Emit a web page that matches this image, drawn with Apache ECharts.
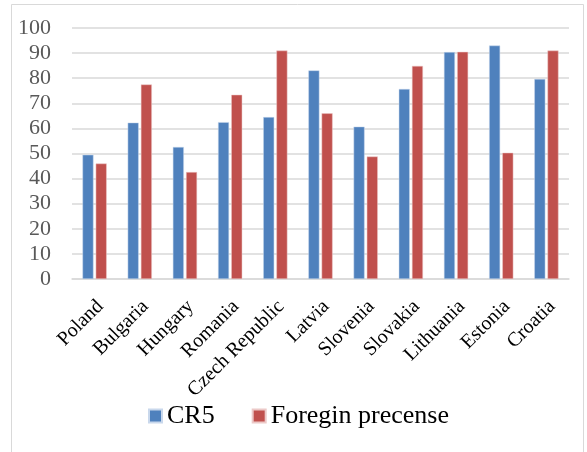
<!DOCTYPE html>
<html>
<head>
<meta charset="utf-8">
<script src="https://cdn.jsdelivr.net/npm/echarts@6/dist/echarts.min.js"></script>
<style>
  html, body { margin: 0; padding: 0; background: #fff; }
  #chart { width: 587px; height: 452px; }
</style>
</head>
<body>
<div id="chart"></div>
<script>
// Countries along the category axis
const countries = ['Poland', 'Bulgaria', 'Hungary', 'Romania', 'Czech Republic', 'Latvia',
  'Slovenia', 'Slovakia', 'Lithuania', 'Estonia', 'Croatia'];
// Share of the five largest banks (%)
const cr5 = [49.5, 62.3, 52.6, 62.5, 64.5, 83.1, 60.7, 75.7, 90.4, 93.0, 79.7];
// Share of foreign-owned banks (%)
const foreignPresence = [46.0, 77.5, 42.6, 73.4, 91.0, 66.0, 48.8, 84.9, 90.5, 50.3, 91.0];
const yTicks = [0, 10, 20, 30, 40, 50, 60, 70, 80, 90, 100];

const serif = '"Liberation Serif", "DejaVu Serif", serif';
const chart = echarts.init(document.getElementById('chart'), null, { renderer: 'canvas' });

chart.setOption({
  animation: false,
  backgroundColor: '#ffffff',
  graphic: [{
    type: 'rect',
    shape: { x: 11.5, y: 4.5, width: 572, height: 460 },
    style: { fill: 'none', stroke: '#d9d9d9', lineWidth: 1 },
    silent: true
  }],
  grid: { left: 72, right: 18, top: 28, bottom: 173, containLabel: false },
  legend: {
    left: 148,
    top: 403,
    padding: 0,
    itemWidth: 13,
    itemHeight: 13,
    itemGap: 37,
    icon: 'rect',
    textStyle: { fontFamily: serif, fontSize: 26, color: '#000000' },
    data: ['CR5', 'Foregin precense']
  },
  xAxis: {
    type: 'category',
    data: countries,
    axisLine: { lineStyle: { color: '#d9d9d9', width: 1.5 } },
    axisTick: { show: false },
    axisLabel: {
      interval: 0,
      rotate: 45,
      margin: 16,
      verticalAlign: 'top',
      padding: [0, 2, 0, 0],
      fontFamily: serif,
      fontSize: 20,
      color: '#000000'
    }
  },
  yAxis: {
    type: 'value',
    min: yTicks[0],
    max: yTicks[yTicks.length - 1],
    interval: 10,
    axisLine: { show: false },
    axisTick: { show: false },
    axisLabel: {
      margin: 21,
      fontFamily: serif,
      fontSize: 22,
      color: '#595959'
    },
    splitLine: { lineStyle: { color: '#d9d9d9', width: 1.5 } }
  },
  series: [
    {
      name: 'CR5',
      type: 'bar',
      data: cr5,
      barWidth: 11,
      barGap: '20%',
      itemStyle: { color: '#4f81bd', borderColor: '#c9d8ec', borderWidth: 0.5 }
    },
    {
      name: 'Foregin precense',
      type: 'bar',
      data: foreignPresence,
      barWidth: 11,
      barGap: '20%',
      itemStyle: { color: '#c0504d', borderColor: '#ecc9c8', borderWidth: 0.5 }
    }
  ]
});
</script>
</body>
</html>
